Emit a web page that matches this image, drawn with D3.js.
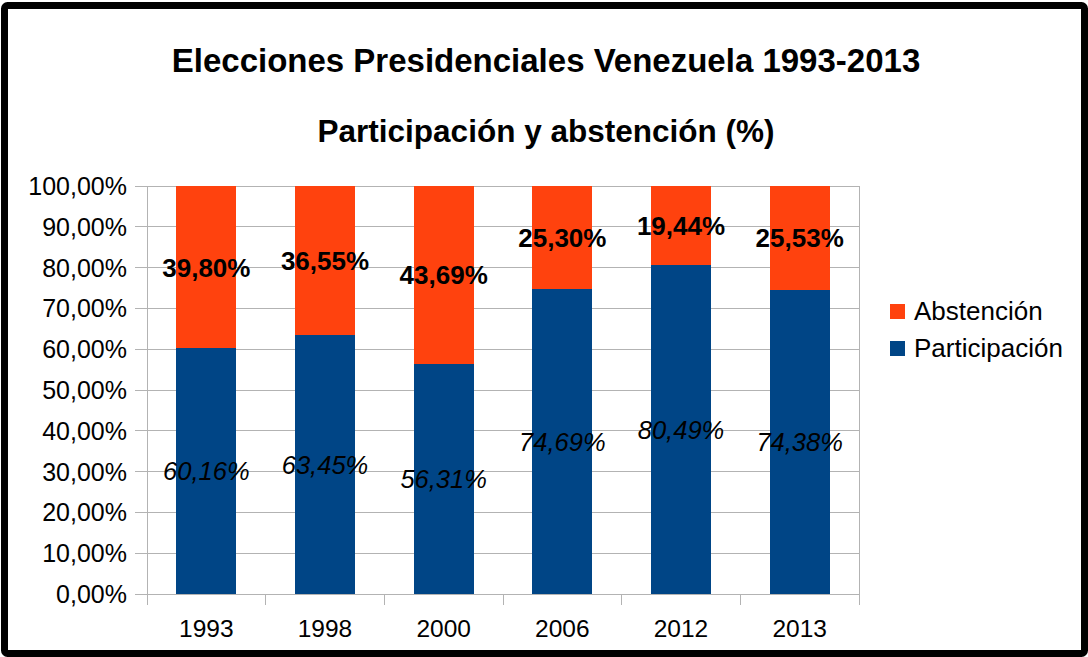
<!DOCTYPE html>
<html><head><meta charset="utf-8">
<script src="https://cdn.jsdelivr.net/npm/d3@7"></script>
<style>body{margin:0;background:#fff}svg{display:block;font-family:"Liberation Sans",Arial,sans-serif}</style>
</head><body><svg id="c" width="1088" height="657"></svg>
<script>
const years = ["1993","1998","2000","2006","2012","2013"];
const participacion = [60.16, 63.45, 56.31, 74.69, 80.49, 74.38];
const abstencion = [39.80, 36.55, 43.69, 25.30, 19.44, 25.53];
const seriesNames = ["Participación","Abstención"];
const colors = ["#004586","#ff420e"];
const yTicks = [0,10,20,30,40,50,60,70,80,90,100];

const svg = d3.select("#c");
svg.append("rect").attr("x",4.5).attr("y",5.5).attr("width",1080).attr("height",648)
  .attr("rx",3).attr("fill","#fff").attr("stroke","#000").attr("stroke-width",7);

const L=147,R=859,T=186,B=594;
const x = d3.scaleBand().domain(years).range([L,R]).paddingInner(0.494).paddingOuter(0.247);
const xb = d3.scaleBand().domain(years).range([L,R]);
const y = d3.scaleLinear().domain([0,100]).range([B,T]);

const table = years.map((yr,i)=>({year:yr,"Participación":participacion[i],"Abstención":abstencion[i]}));
const stack = d3.stack().keys(seriesNames).offset(d3.stackOffsetExpand)(table);

// gridlines
const grid = svg.append("g");
grid.selectAll("line").data(yTicks).join("line")
  .attr("x1",L-12).attr("x2",R).attr("y1",d=>y(d)).attr("y2",d=>y(d))
  .attr("stroke","#b3b3b3").attr("stroke-width",1).attr("shape-rendering","crispEdges");
// plot verticals
svg.append("line").attr("x1",L).attr("x2",L).attr("y1",T).attr("y2",B+11).attr("stroke","#b3b3b3").attr("shape-rendering","crispEdges");
svg.append("line").attr("x1",R).attr("x2",R).attr("y1",T).attr("y2",B+11).attr("stroke","#b3b3b3").attr("shape-rendering","crispEdges");
// x boundary ticks
svg.append("g").selectAll("line").data(years.slice(1)).join("line")
  .attr("x1",d=>xb(d)).attr("x2",d=>xb(d)).attr("y1",B).attr("y2",B+11)
  .attr("stroke","#b3b3b3").attr("shape-rendering","crispEdges");

// bars
stack.forEach((s,si)=>{
  svg.append("g").attr("fill",colors[si]).selectAll("rect").data(s).join("rect")
    .attr("x",d=>x(d.data.year)).attr("width",x.bandwidth())
    .attr("y",d=>y(d[1]*100)).attr("height",d=>y(d[0]*100)-y(d[1]*100))
    .attr("shape-rendering","crispEdges");
});

// data labels
const fmt = v => v.toFixed(2).replace(".",",")+"%";
stack.forEach((s,si)=>{
  const vals = si===0?participacion:abstencion;
  svg.append("g").selectAll("text").data(s).join("text")
    .attr("x",d=>x(d.data.year)+x.bandwidth()/2)
    .attr("y",d=>y((d[0]+d[1])/2*100)).attr("dy","0.36em")
    .attr("text-anchor","middle").attr("font-size",si===1?26:25.5)
    .attr("font-weight",si===1?"bold":"normal")
    .attr("font-style",si===0?"italic":"normal")
    .attr("fill","#000")
    .text((d,i)=>fmt(vals[i]));
});

// y axis labels
svg.append("g").selectAll("text").data(yTicks).join("text")
  .attr("x",127).attr("y",d=>y(d)).attr("dy","0.36em").attr("text-anchor","end")
  .attr("font-size",25).text(d=>d.toFixed(2).replace(".",",")+"%");
// x axis labels
svg.append("g").selectAll("text").data(years).join("text")
  .attr("x",d=>xb(d)+xb.bandwidth()/2).attr("y",637).attr("text-anchor","middle")
  .attr("font-size",24.5).text(d=>d);

// titles
svg.append("text").attr("x",546).attr("y",72).attr("text-anchor","middle")
  .attr("font-size",33).attr("font-weight","bold").text("Elecciones Presidenciales Venezuela 1993-2013");
svg.append("text").attr("x",546).attr("y",142).attr("text-anchor","middle")
  .attr("font-size",31.5).attr("font-weight","bold").text("Participación y abstención (%)");

// legend
const legendOrder = [1,0];
const lg = svg.append("g");
legendOrder.forEach((si,k)=>{
  lg.append("rect").attr("x",890).attr("y",304+k*37).attr("width",15).attr("height",15).attr("fill",colors[si]);
  lg.append("text").attr("x",914).attr("y",320+k*37).attr("font-size",26).text(seriesNames[si]);
});
</script></body></html>
